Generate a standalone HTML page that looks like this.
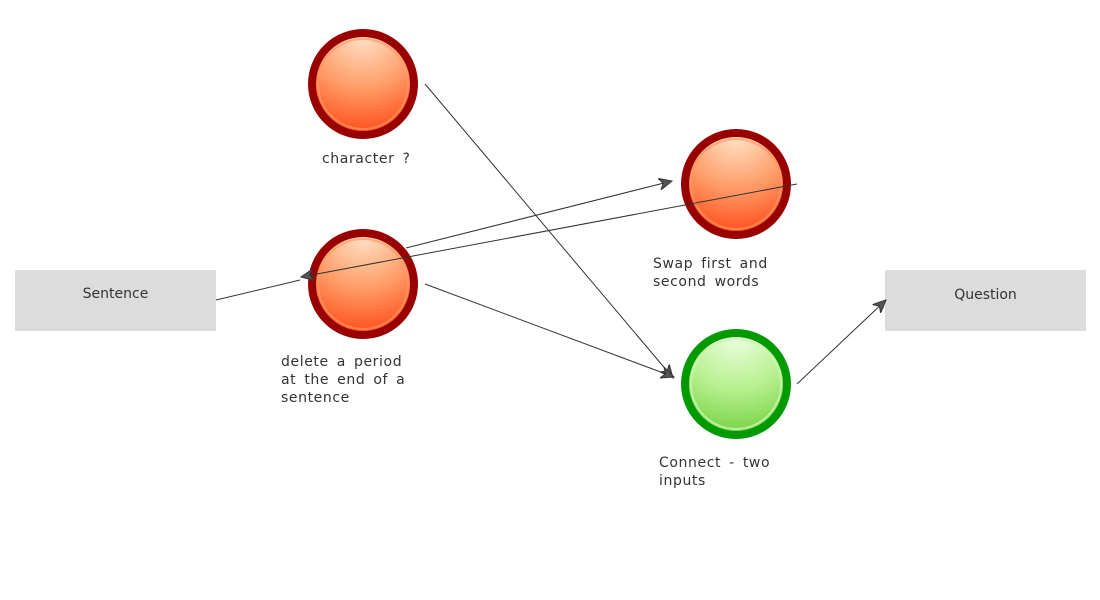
<!DOCTYPE html>
<html><head><style>
body{margin:0;width:1100px;height:600px;background:#fff;position:relative;overflow:hidden;font-family:"DejaVu Sans","Liberation Sans",sans-serif;}
.box{position:absolute;background:#dcdcdc;width:201px;height:61px;color:#333;font-size:14px;display:flex;align-items:center;justify-content:center;}
.t{position:absolute;font-size:14px;color:#333;line-height:18px;letter-spacing:0.6px;word-spacing:3px;}
</style></head><body>
<div class="box" style="left:15px;top:270px;padding-bottom:13px;box-sizing:border-box;">Sentence</div>
<div class="box" style="left:885px;top:270px;padding-bottom:11px;box-sizing:border-box;">Question</div>
<svg width="1100" height="600" style="position:absolute;left:0;top:0">
<defs>
<radialGradient id="r" cx="50%" cy="0%" r="110%"><stop offset="0" stop-color="#ffe6cc"/><stop offset="0.5" stop-color="#ff9b66"/><stop offset="1" stop-color="#ff3a08"/></radialGradient>
<radialGradient id="g" cx="50%" cy="0%" r="110%"><stop offset="0" stop-color="#f0ffe6"/><stop offset="0.5" stop-color="#b8f08f"/><stop offset="1" stop-color="#66cc33"/></radialGradient>
<marker id="a" markerWidth="14" markerHeight="12" refX="13" refY="6" orient="auto" markerUnits="userSpaceOnUse"><path d="M0,0 L13,6 L0,12 L4,6 Z" fill="#555" stroke="#333" stroke-width="1"/></marker>
</defs>
<g>
<circle cx="363" cy="84" r="51" fill="url(#r)" stroke="#990000" stroke-width="8"/>
<circle cx="363" cy="84" r="45" fill="none" stroke="#ff9966" stroke-width="2" opacity="0.7"/>
<circle cx="363" cy="284" r="51" fill="url(#r)" stroke="#990000" stroke-width="8"/>
<circle cx="363" cy="284" r="45" fill="none" stroke="#ff9966" stroke-width="2" opacity="0.7"/>
<circle cx="736" cy="184" r="51" fill="url(#r)" stroke="#990000" stroke-width="8"/>
<circle cx="736" cy="184" r="45" fill="none" stroke="#ff9966" stroke-width="2" opacity="0.7"/>
<circle cx="736" cy="384" r="51" fill="url(#g)" stroke="#009900" stroke-width="8"/>
<circle cx="736" cy="384" r="45" fill="none" stroke="#ccf5b0" stroke-width="2" opacity="0.8"/>
</g>
<g stroke="#333" stroke-width="1" fill="none">
<line x1="216" y1="300" x2="300" y2="280"/>
<line x1="797" y1="184" x2="301" y2="277" marker-end="url(#a)"/>
<line x1="406" y1="248" x2="672" y2="181" marker-end="url(#a)"/>
<line x1="425" y1="84" x2="673" y2="378" marker-end="url(#a)"/>
<line x1="425" y1="284" x2="674" y2="377" marker-end="url(#a)"/>
<line x1="797" y1="384" x2="886" y2="300" marker-end="url(#a)"/>
</g>
</svg>
<div class="t" style="left:322px;top:150px">character ?</div>
<div class="t" style="left:281px;top:353px">delete a period<br>at the end of a<br>sentence</div>
<div class="t" style="left:653px;top:255px">Swap first and<br>second words</div>
<div class="t" style="left:659px;top:454px">Connect - two<br>inputs</div>
</body></html>
